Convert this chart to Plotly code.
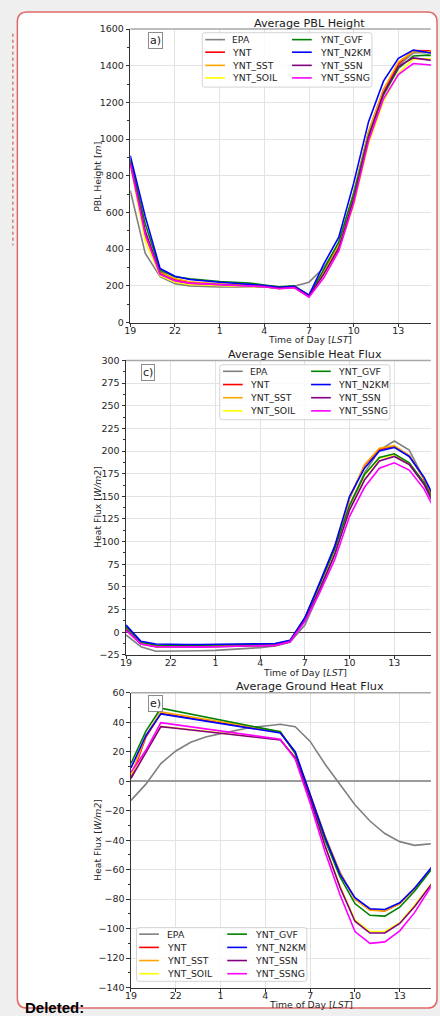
import plotly.graph_objects as go

# ---------------- data ----------------
hour_index = list(range(22))                       # 19 LST ... 16 LST
tick_positions = [0, 3, 6, 9, 12, 15, 18]
tick_labels = ['19', '22', '1', '4', '7', '10', '13']

series_names = ['EPA', 'YNT', 'YNT_SST', 'YNT_SOIL', 'YNT_GVF', 'YNT_N2KM', 'YNT_SSN', 'YNT_SSNG']
series_colors = ['#808080', '#ff0000', '#ffa500', '#ffff00', '#008000', '#0000ff', '#800080', '#ff00ff']

# Average PBL height [m]
pbl_epa = [720, 378, 250, 212, 200, 195, 194, 194, 195, 195, 192, 198, 220, 300, 430, 710, 1040, 1270, 1400, 1470, 1472, 1465]
pbl_ynt = [880, 490, 275, 235, 218, 212, 208, 205, 203, 198, 188, 194, 145, 270, 420, 690, 1030, 1265, 1410, 1483, 1482, 1470]
pbl_sst = [875, 470, 270, 240, 222, 215, 210, 206, 204, 199, 189, 195, 147, 275, 425, 700, 1040, 1270, 1420, 1478, 1476, 1465]
pbl_soil = [860, 445, 255, 220, 208, 204, 200, 198, 197, 194, 185, 190, 142, 255, 395, 640, 975, 1205, 1358, 1437, 1438, 1430]
pbl_gvf = [890, 540, 285, 250, 238, 230, 224, 220, 215, 205, 195, 200, 148, 290, 440, 700, 1020, 1240, 1385, 1453, 1458, 1450]
pbl_n2km = [910, 580, 295, 252, 235, 226, 220, 214, 210, 202, 192, 198, 150, 320, 465, 760, 1095, 1316, 1440, 1485, 1472, 1462]
pbl_ssn = [870, 500, 265, 228, 214, 210, 205, 202, 200, 196, 186, 192, 143, 265, 405, 670, 1010, 1250, 1395, 1443, 1432, 1420]
pbl_ssng = [865, 480, 262, 228, 215, 210, 205, 202, 200, 195, 184, 190, 138, 245, 390, 650, 990, 1220, 1352, 1412, 1405, 1395]

# Average sensible heat flux [W/m2]
shf_epa = [-3, -16, -21, -21, -21, -20.5, -20, -19, -18, -17, -15, -11, 8, 45, 85, 140, 176, 201, 211, 201, 169, 132]
shf_ynt = [5, -12, -15, -15.3, -15.3, -15.2, -15, -14.8, -14.5, -14.2, -13.8, -10, 15, 52, 93, 148, 184, 202, 205, 195, 169, 136]
shf_sst = [5, -12, -15, -15.3, -15.3, -15.2, -15, -14.8, -14.5, -14.2, -13.8, -10, 15, 53, 94, 148, 185, 203, 206, 195, 170, 137]
shf_soil = [3, -12, -16, -16, -16, -15.8, -15.6, -15.3, -15, -14.6, -14, -10, 14, 50, 88, 138, 173, 192, 196, 186, 164, 131]
shf_gvf = [6, -11, -14, -14.5, -14.5, -14.4, -14.2, -14, -13.8, -13.5, -13, -9.5, 16, 53, 92, 140, 174, 193, 197, 187, 165, 132]
shf_n2km = [8, -10, -13, -13.5, -13.5, -13.5, -13.4, -13.2, -13, -12.8, -12.5, -9, 16, 55, 95, 150, 181, 200, 204, 194, 171, 138]
shf_ssn = [3, -13, -16, -16.3, -16.3, -16.2, -16, -15.8, -15.5, -15, -14.5, -10.5, 13, 48, 86, 135, 168, 189, 194, 185, 163, 130]
shf_ssng = [2, -13, -16, -16.3, -16.3, -16.2, -16, -15.8, -15.5, -15, -14.5, -10.5, 12, 44, 80, 128, 160, 181, 187, 179, 158, 126]

# Average ground heat flux [W/m2]
ghf_epa = [-13, -2, 12, 20.5, 26.4, 30, 32.3, 34.4, 36.4, 37.5, 38.6, 37, 27, 11.5, -2, -16, -27, -35.5, -41, -43.5, -42.5, -41]
ghf_ynt = [2, 30, 46, 44.4, 42.8, 41.3, 39.7, 38.1, 36.5, 34.9, 33.3, 19, -10, -38, -62, -80, -87, -88, -83, -73, -60.5, -48]
ghf_sst = [4, 31, 47, 45.3, 43.6, 42, 40.3, 38.6, 37, 35.3, 33.6, 19, -9, -37, -62, -80, -87.5, -88, -83, -73, -60.5, -48]
ghf_soil = [5, 20, 37.2, 36.1, 35, 33.9, 32.8, 31.7, 30.6, 29.5, 28.4, 16, -12, -44, -71, -94, -102, -102, -96, -84, -71, -58]
ghf_gvf = [12, 34, 49.5, 47.5, 45.5, 43.5, 41.5, 39.5, 37.5, 35.5, 33.5, 19, -10, -40, -65, -83, -91, -91.5, -85.5, -74.5, -61.5, -49]
ghf_n2km = [9, 31, 45.7, 44.1, 42.5, 40.9, 39.3, 37.6, 36, 34.4, 32.7, 20, -9, -38, -63, -79, -86.5, -87, -82.5, -72.5, -60, -47]
ghf_ssn = [2, 19, 37, 35.9, 34.8, 33.7, 32.6, 31.4, 30.3, 29.2, 28, 16, -12, -44, -72, -95, -103, -103, -96.5, -85, -71.5, -58]
ghf_ssng = [6, 21, 39.7, 38.3, 36.9, 35.5, 34.1, 32.7, 31.3, 29.9, 28.5, 15, -15, -48, -77, -102, -110, -109, -101.5, -89, -73, -60]

pbl_series = [pbl_epa, pbl_ynt, pbl_sst, pbl_soil, pbl_gvf, pbl_n2km, pbl_ssn, pbl_ssng]
shf_series = [shf_epa, shf_ynt, shf_sst, shf_soil, shf_gvf, shf_n2km, shf_ssn, shf_ssng]
ghf_series = [ghf_epa, ghf_ynt, ghf_sst, ghf_soil, ghf_gvf, ghf_n2km, ghf_ssn, ghf_ssng]

# ---------------- layout helpers ----------------
W, H = 440, 1016
FONT = 'DejaVu Sans'
TXT = '#262626'


def X(px):
    return px / W


def Y(py):
    return 1 - py / H


def rrect(x0, y0, x1, y1, r):
    return (f"M {X(x0 + r)},{Y(y0)} L {X(x1 - r)},{Y(y0)} Q {X(x1)},{Y(y0)} {X(x1)},{Y(y0 + r)} "
            f"L {X(x1)},{Y(y1 - r)} Q {X(x1)},{Y(y1)} {X(x1 - r)},{Y(y1)} "
            f"L {X(x0 + r)},{Y(y1)} Q {X(x0)},{Y(y1)} {X(x0)},{Y(y1 - r)} "
            f"L {X(x0)},{Y(y0 + r)} Q {X(x0)},{Y(y0)} {X(x0 + r)},{Y(y0)} Z")


panels = [
    dict(series=pbl_series, xd=(126.0, 430.7), yd=(23.3, 320.0), xmax=20.18, yr=[0, 1600], dt=200, mdt=100,
         zero=None, title='Average PBL Height', title_xy=(307.7, 17.5), ytitle='PBL Height [<i>m</i>]',
         ytitle_xy=(92, 173), xtitle_xy=(308, 337), label='a)', label_xy=(151.3, 35.2),
         leg=dict(box=(199, 27, 371, 82), lx=(202, 290), tx=(228.3, 317.3), ry=(34, 46.7, 60, 72.7))),
    dict(series=shf_series, xd=(121.7, 430.7), yd=(358.3, 656.0), xmax=20.45, yr=[-25, 300], dt=25, mdt=12.5,
         zero=('#3c3c3c', 1.3), title='Average Sensible Heat Flux', title_xy=(302.7, 352.5),
         ytitle='Heat Flux [<i>W/m2</i>]', ytitle_xy=(92, 506.7), xtitle_xy=(303, 674), label='c)',
         label_xy=(144.2, 370.8),
         leg=dict(box=(216.7, 362.7, 389.3, 418.3), lx=(220, 309.3), tx=(246.7, 336), ry=(369.3, 382.7, 396, 409.3))),
    dict(series=ghf_series, xd=(126.7, 430.7), yd=(694.3, 992.3), xmax=20.08, yr=[-140, 60], dt=20, mdt=10,
         zero=('#9a9a9a', 2), title='Average Ground Heat Flux', title_xy=(308.7, 688.3),
         ytitle='Heat Flux [<i>W/m2</i>]', ytitle_xy=(92, 843.3), xtitle_xy=(309, 1009.5), label='e)',
         label_xy=(151.3, 705.5),
         leg=dict(box=(132.3, 931.7, 305, 986), lx=(135, 224.3), tx=(162.7, 251.7), ry=(938.3, 951.7, 965, 978.3))),
]

fig = go.Figure()
shapes = []
annotations = []

# page background: rounded comment box with red border, dotted marker, label
shapes.append(dict(type='path', xref='paper', yref='paper', path=rrect(11.5, 6, 437, 1013, 10),
                   fillcolor='white', line=dict(color='#e06a6a', width=1.5), layer='below'))
shapes.append(dict(type='line', xref='paper', yref='paper', x0=X(7), x1=X(7), y0=Y(28), y1=Y(242),
                   line=dict(color='#cc3b3b', width=1, dash='dot'), layer='below'))
annotations.append(dict(xref='paper', yref='paper', x=X(17), y=Y(1012), xanchor='left', yanchor='middle',
                        text='<b>Deleted:</b>', showarrow=False,
                        font=dict(family='Liberation Sans', size=15, color='#000000')))

layout_axes = {}
for i, p in enumerate(panels):
    n = '' if i == 0 else str(i + 1)
    xa, ya = 'x' + n, 'y' + n
    for name, color, vals in zip(series_names, series_colors, p['series']):
        fig.add_trace(go.Scatter(x=hour_index, y=vals, mode='lines', name=name, showlegend=False,
                                 line=dict(color=color, width=1.6), xaxis=xa, yaxis=ya))
    layout_axes['xaxis' + n] = dict(
        domain=[X(p['xd'][0]), X(p['xd'][1])], anchor=ya, range=[0, p['xmax']],
        tickvals=tick_positions, ticktext=tick_labels, ticks='outside', ticklen=3, tickcolor='#333',
        ticklabelstandoff=-4,
        showline=True, linecolor='#333', linewidth=1, showgrid=True, gridcolor='#e3e3e3', gridwidth=1,
        zeroline=False, tickfont=dict(family=FONT, size=9.5, color=TXT))
    z = p['zero']
    layout_axes['yaxis' + n] = dict(
        domain=[Y(p['yd'][1]), Y(p['yd'][0])], anchor=xa, range=p['yr'], tick0=0, dtick=p['dt'],
        ticks='outside', ticklen=3.5, tickcolor='#333', showline=True, linecolor='#333', linewidth=1,
        showgrid=True, gridcolor='#e3e3e3', gridwidth=1,
        zeroline=z is not None, zerolinecolor=(z[0] if z else None), zerolinewidth=(z[1] if z else None),
        minor=dict(dtick=p['mdt'], tick0=0, ticks='outside', ticklen=2, tickcolor='#333', showgrid=False),
        tickfont=dict(family=FONT, size=9.5, color=TXT))
    # top spine
    shapes.append(dict(type='line', xref=xa + ' domain', yref=ya + ' domain', x0=0, x1=1, y0=1, y1=1,
                       line=dict(color='#a8a8a8', width=1.5)))
    # titles and axis labels
    annotations.append(dict(xref='paper', yref='paper', x=X(p['title_xy'][0]), y=Y(p['title_xy'][1]),
                            xanchor='center', yanchor='middle', text=p['title'], showarrow=False,
                            font=dict(family=FONT, size=11.2, color='#1a1a1a')))
    annotations.append(dict(xref='paper', yref='paper', x=X(p['xtitle_xy'][0]), y=Y(p['xtitle_xy'][1]),
                            xanchor='center', yanchor='middle', text='Time of Day [<i>LST</i>]',
                            showarrow=False, borderpad=0, font=dict(family=FONT, size=9.3, color=TXT)))
    annotations.append(dict(xref='paper', yref='paper', x=X(p['ytitle_xy'][0]), y=Y(p['ytitle_xy'][1]),
                            xanchor='center', yanchor='middle', text=p['ytitle'], textangle=-90,
                            showarrow=False, font=dict(family=FONT, size=9.3, color=TXT)))
    annotations.append(dict(xref='paper', yref='paper', x=X(p['label_xy'][0]), y=Y(p['label_xy'][1]),
                            xanchor='center', yanchor='middle', text=p['label'], showarrow=False,
                            bgcolor='white', bordercolor='#8c8c8c', borderwidth=1, borderpad=1,
                            font=dict(family=FONT, size=11, color='#1a1a1a')))
    # legend (two columns, four rows)
    lg = p['leg']
    bx = lg['box']
    shapes.append(dict(type='path', xref='paper', yref='paper', path=rrect(bx[0], bx[1], bx[2], bx[3], 2.5),
                       fillcolor='rgba(255,255,255,0.85)', line=dict(color='#d4d4d4', width=1), layer='above'))
    for k, (name, color) in enumerate(zip(series_names, series_colors)):
        col, row = divmod(k, 4)
        lx0 = lg['lx'][col]
        ly = lg['ry'][row]
        shapes.append(dict(type='line', xref='paper', yref='paper', x0=X(lx0), x1=X(lx0 + 20), y0=Y(ly), y1=Y(ly),
                           line=dict(color=color, width=1.6), layer='above'))
        annotations.append(dict(xref='paper', yref='paper', x=X(lg['tx'][col] - 1), y=Y(ly), xanchor='left',
                                yanchor='middle', text=name, showarrow=False,
                                font=dict(family=FONT, size=9.3, color=TXT)))

fig.update_layout(
    width=W, height=H, margin=dict(l=0, r=0, t=0, b=0), autosize=False,
    paper_bgcolor='#efefef', plot_bgcolor='white', showlegend=False,
    shapes=shapes, annotations=annotations, font=dict(family=FONT), **layout_axes)

fig.write_html('out.html')
